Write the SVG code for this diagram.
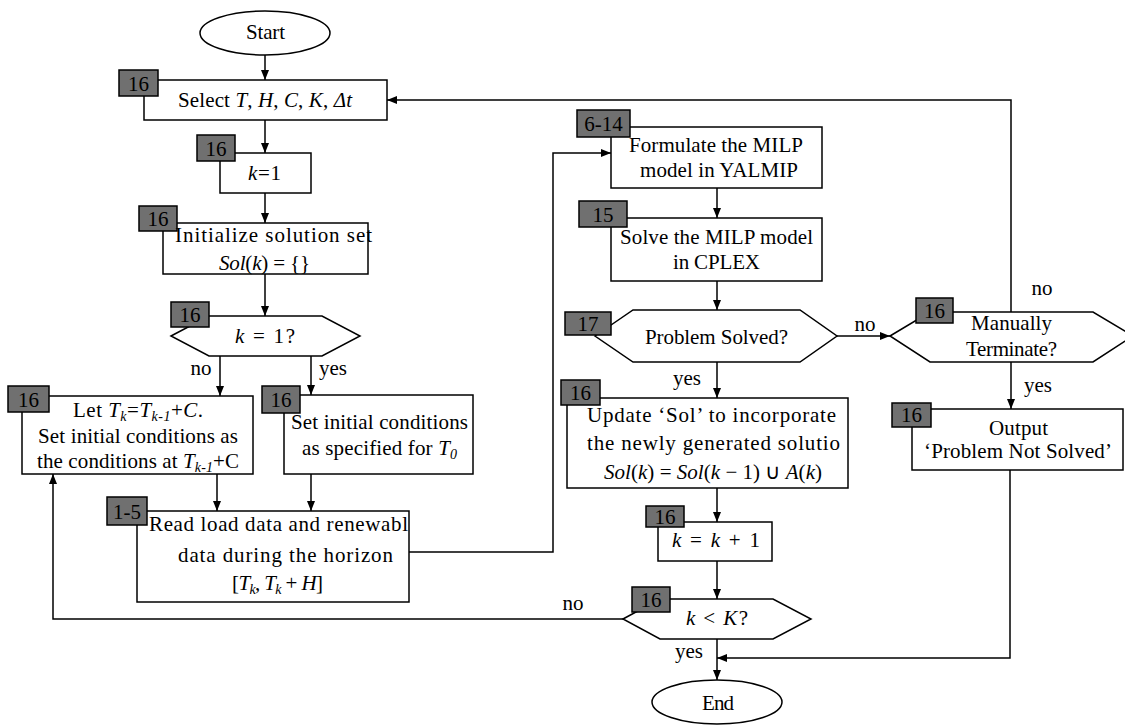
<svg xmlns="http://www.w3.org/2000/svg" width="1125" height="725" viewBox="0 0 1125 725">
<defs>
<marker id="ah" markerUnits="userSpaceOnUse" markerWidth="10" markerHeight="10" viewBox="0 0 10 10" refX="10" refY="5" orient="auto">
<path d="M0,1 L10,5 L0,9 Z" fill="#000"/>
</marker>
<style>
.box{fill:#fff;stroke:#000;stroke-width:1.5}
.bd{fill:#707070;stroke:#000;stroke-width:1.5}
.t{font-family:"Liberation Serif","Times New Roman",serif;font-size:21px;fill:#000;text-anchor:middle}
.bt{font-family:"Liberation Serif","Times New Roman",serif;font-size:21px;fill:#000;text-anchor:middle}
.i{font-style:italic}
.c{fill:none;stroke:#000;stroke-width:1.5}
</style>
</defs>
<rect width="1125" height="725" fill="#fff"/>

<g id="connectors">
<path class="c" d="M265,55 V80" marker-end="url(#ah)"/>
<path class="c" d="M265,120 V153" marker-end="url(#ah)"/>
<path class="c" d="M265,193 V223" marker-end="url(#ah)"/>
<path class="c" d="M265,274 V316" marker-end="url(#ah)"/>
<path class="c" d="M220,356 V396" marker-end="url(#ah)"/>
<path class="c" d="M311,356 V395" marker-end="url(#ah)"/>
<path class="c" d="M217,474 V511" marker-end="url(#ah)"/>
<path class="c" d="M311,474 V511" marker-end="url(#ah)"/>
<path class="c" d="M409,552 H553 V153 H611" marker-end="url(#ah)"/>
<path class="c" d="M717,188 V218" marker-end="url(#ah)"/>
<path class="c" d="M717,281 V310" marker-end="url(#ah)"/>
<path class="c" d="M717,362 V398" marker-end="url(#ah)"/>
<path class="c" d="M837,336 H890" marker-end="url(#ah)"/>
<path class="c" d="M1011,312 V100 H387" marker-end="url(#ah)"/>
<path class="c" d="M1011,362 V409" marker-end="url(#ah)"/>
<path class="c" d="M1010,470 V658 H717" marker-end="url(#ah)"/>
<path class="c" d="M717,488 V522" marker-end="url(#ah)"/>
<path class="c" d="M717,561 V599" marker-end="url(#ah)"/>
<path class="c" d="M717,639 V680" marker-end="url(#ah)"/>
<path class="c" d="M623,619 H53 V474" marker-end="url(#ah)"/>
<text class="t" x="201" y="375">no</text>
<text class="t" x="333" y="375">yes</text>
<text class="t" x="865" y="331">no</text>
<text class="t" x="1042" y="295">no</text>
<text class="t" x="1038" y="392">yes</text>
<text class="t" x="687" y="385">yes</text>
<text class="t" x="573" y="610">no</text>
<text class="t" x="689" y="658">yes</text>
</g>

<g id="start">
<ellipse class="box" cx="265" cy="33" rx="65" ry="22"/>
<text class="t" x="265.5" y="39" textLength="39">Start</text>
</g>

<g id="select">
<rect class="box" x="144" y="80" width="243" height="40"/>
<rect class="bd" x="119" y="70" width="39" height="26"/>
<text class="bt" x="138.5" y="91">16</text>
<text class="t" x="265" y="107" textLength="174">Select <tspan class="i">T</tspan>, <tspan class="i">H</tspan>, <tspan class="i">C</tspan>, <tspan class="i">K</tspan>, <tspan class="i">Δt</tspan></text>
</g>

<g id="k1">
<rect class="box" x="220" y="153" width="91" height="40"/>
<rect class="bd" x="197" y="135" width="38" height="26"/>
<text class="bt" x="216" y="156">16</text>
<text class="t" x="264.5" y="180" textLength="33"><tspan class="i">k</tspan>=1</text>
</g>

<g id="init">
<rect class="box" x="163" y="223" width="205" height="51"/>
<rect class="bd" x="139" y="206" width="38" height="25"/>
<text class="bt" x="158" y="226">16</text>
<text class="t" x="175" y="242" textLength="197" style="text-anchor:start">Initialize solution set</text>
<text class="t" x="264.5" y="270" textLength="91"><tspan class="i">Sol</tspan>(<tspan class="i">k</tspan>) = {}</text>
</g>

<g id="dec1">
<polygon class="box" points="171,336 209,316 322,316 360,336 322,356 209,356"/>
<rect class="bd" x="171" y="302" width="38" height="25"/>
<text class="bt" x="190" y="322">16</text>
<text class="t" x="265" y="343" textLength="60"><tspan class="i">k</tspan> = 1?</text>
</g>

<g id="letTk">
<rect class="box" x="22" y="396" width="231" height="78"/>
<rect class="bd" x="8" y="386" width="41" height="26"/>
<text class="bt" x="28.5" y="407">16</text>
<text class="t" x="138" y="417" textLength="130">Let <tspan class="i">T<tspan font-size="14" dy="4">k</tspan></tspan><tspan dy="-4">=</tspan><tspan class="i">T<tspan font-size="14" dy="4">k-1</tspan></tspan><tspan dy="-4">+</tspan><tspan class="i">C</tspan>.</text>
<text class="t" x="138" y="443" textLength="200">Set initial conditions as</text>
<text class="t" x="138" y="468" textLength="202">the conditions at <tspan class="i">T<tspan font-size="14" dy="4">k-1</tspan></tspan><tspan dy="-4">+C</tspan></text>
</g>

<g id="setT0">
<rect class="box" x="284" y="395" width="189" height="79"/>
<rect class="bd" x="262" y="386" width="38" height="27"/>
<text class="bt" x="281" y="407">16</text>
<text class="t" x="379.5" y="429" textLength="177">Set initial conditions</text>
<text class="t" x="379.5" y="455" textLength="155">as specified for <tspan class="i">T<tspan font-size="14" dy="4">0</tspan></tspan></text>
</g>

<g id="read">
<rect class="box" x="137" y="511" width="272" height="91"/>
<rect class="bd" x="107" y="497" width="40" height="28"/>
<text class="bt" x="127" y="519">1-5</text>
<text class="t" x="149" y="531" textLength="259" style="text-anchor:start">Read load data and renewabl</text>
<text class="t" x="285.5" y="562" textLength="215">data during the horizon</text>
<text class="t" x="277.5" y="590" textLength="91">[<tspan class="i">T<tspan font-size="14" dy="4">k</tspan></tspan><tspan dy="-4">, </tspan><tspan class="i">T<tspan font-size="14" dy="4">k</tspan></tspan><tspan dy="-4"> + </tspan><tspan class="i">H</tspan>]</text>
</g>

<g id="formulate">
<rect class="box" x="611" y="127" width="211" height="61"/>
<rect class="bd" x="577" y="110" width="53" height="27"/>
<text class="bt" x="603.5" y="131">6-14</text>
<text class="t" x="716" y="152" textLength="174">Formulate the MILP</text>
<text class="t" x="719" y="177" textLength="158">model in YALMIP</text>
</g>

<g id="solve">
<rect class="box" x="611" y="218" width="211" height="63"/>
<rect class="bd" x="579" y="201" width="48" height="26"/>
<text class="bt" x="603" y="222">15</text>
<text class="t" x="716.5" y="244" textLength="193">Solve the MILP model</text>
<text class="t" x="716.5" y="269" textLength="87">in CPLEX</text>
</g>

<g id="problemSolved">
<polygon class="box" points="595,336 633,310 800,310 837,336 800,362 633,362"/>
<rect class="bd" x="565" y="312" width="46" height="23"/>
<text class="bt" x="588" y="331">17</text>
<text class="t" x="716.5" y="344" textLength="143">Problem Solved?</text>
</g>

<g id="update">
<rect class="box" x="567" y="398" width="281" height="90"/>
<rect class="bd" x="561" y="380" width="39" height="25"/>
<text class="bt" x="580.5" y="400">16</text>
<text class="t" x="587" y="422" textLength="249" style="text-anchor:start">Update ‘Sol’ to incorporate</text>
<text class="t" x="587" y="450" textLength="253" style="text-anchor:start">the newly generated solutio</text>
<text class="t" x="713" y="479" textLength="218"><tspan class="i">Sol</tspan>(<tspan class="i">k</tspan>) = <tspan class="i">Sol</tspan>(<tspan class="i">k</tspan> − 1) ∪ <tspan class="i">A</tspan>(<tspan class="i">k</tspan>)</text>
</g>

<g id="kplus">
<rect class="box" x="658" y="522" width="114" height="39"/>
<rect class="bd" x="646" y="506" width="38" height="21"/>
<text class="bt" x="665" y="524">16</text>
<text class="t" x="716" y="547" textLength="88"><tspan class="i">k</tspan> = <tspan class="i">k</tspan> + 1</text>
</g>

<g id="kK">
<polygon class="box" points="623,619 660,599 773,599 811,619 773,639 660,639"/>
<rect class="bd" x="632" y="587" width="38" height="25"/>
<text class="bt" x="651" y="607">16</text>
<text class="t" x="717" y="625" textLength="62"><tspan class="i">k</tspan> &lt; <tspan class="i">K</tspan>?</text>
</g>

<g id="manual">
<polygon class="box" points="890,336 930,312 1093,312 1133,336 1093,362 930,362"/>
<rect class="bd" x="916" y="298" width="37" height="25"/>
<text class="bt" x="934.5" y="318">16</text>
<text class="t" x="1011.5" y="330" textLength="81">Manually</text>
<text class="t" x="1011.5" y="356" textLength="91">Terminate?</text>
</g>

<g id="output">
<rect class="box" x="912" y="409" width="211" height="61"/>
<rect class="bd" x="892" y="403" width="39" height="24"/>
<text class="bt" x="911.5" y="422">16</text>
<text class="t" x="1018.5" y="435" textLength="59">Output</text>
<text class="t" x="1018" y="458" textLength="188">‘Problem Not Solved’</text>
</g>

<g id="end">
<ellipse class="box" cx="717" cy="702" rx="65" ry="22"/>
<text class="t" x="718" y="710" textLength="32">End</text>
</g>
</svg>
